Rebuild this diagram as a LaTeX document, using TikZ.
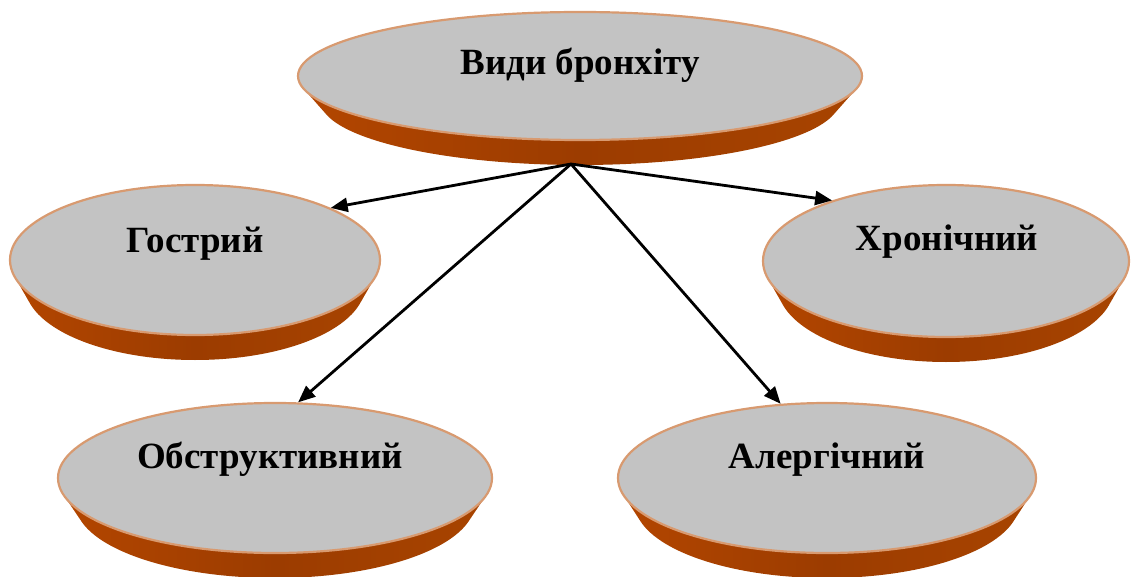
\documentclass[tikz,border=0pt]{standalone}
\usepackage{fontspec}
\setmainfont{Liberation Serif}
\usetikzlibrary{shapes.geometric,arrows.meta}
\definecolor{orA}{HTML}{D45A00}
\definecolor{orB}{HTML}{B84800}
\definecolor{orC}{HTML}{9C3C00}
\definecolor{orD}{HTML}{A84400}
\definecolor{orE}{HTML}{D45800}
\definecolor{topgray}{HTML}{C3C3C3}
\definecolor{rimc}{HTML}{D89A70}
\pgfdeclarehorizontalshading{sidesh}{100bp}{color(0bp)=(orA); color(20bp)=(orB); color(50bp)=(orC); color(75bp)=(orD); color(100bp)=(orE)}
\tikzset{
  topdisk/.style={ellipse, fill=topgray, draw=rimc, line width=2.2pt, inner sep=0pt},
  lbl/.style={anchor=base, font=\fontsize{37}{40}\selectfont\bfseries, text=black},
  conn/.style={line width=2.8pt, -{Triangle[length=17pt,width=14pt]}}
}
\newcommand\mydisk[5]{%
  \begin{scope}
    \clip \foreach \i in {0,...,12}{ ({#2},{#3+25*\i/12}) ellipse ({#4*(1-0.08*\i/12)} and {#5}) };
    \shade[shading=sidesh]
      ({#2-#4-2},{#3-#5-2}) rectangle ({#2+#4+2},{#3+#5+28});
  \end{scope}
  \node[topdisk, minimum width={2*#4}, minimum height={2*#5}] (#1) at (#2,#3) {};
}
\begin{document}
\begin{tikzpicture}[x=1pt,y=-1pt]
\useasboundingbox (0,0) rectangle (1131,577);
\mydisk{top}{580}{76}{282}{64}
\mydisk{gos}{195}{260}{185}{75}
\mydisk{hro}{946}{261}{183}{76}
\mydisk{obs}{275}{478}{217}{75}
\mydisk{ale}{827}{478}{209}{75}
\node[lbl] (ttop) at (580,75) {Види бронхіту};
\node[lbl] (tgos) at (195,252) {Гострий};
\node[lbl] (thro) at (947,251) {Хронічний};
\node[lbl] (tobs) at (270,468) {Обструктивний};
\node[lbl] (tale) at (827,468) {Алергічний};
\coordinate (src) at (571,164);
\draw[conn] (src) -- (gos.21);
\draw[conn] (src) -- (hro.152);
\draw[conn] (src) -- (obs.73);
\draw[conn] (src) -- (ale.122);
\end{tikzpicture}
\end{document}
